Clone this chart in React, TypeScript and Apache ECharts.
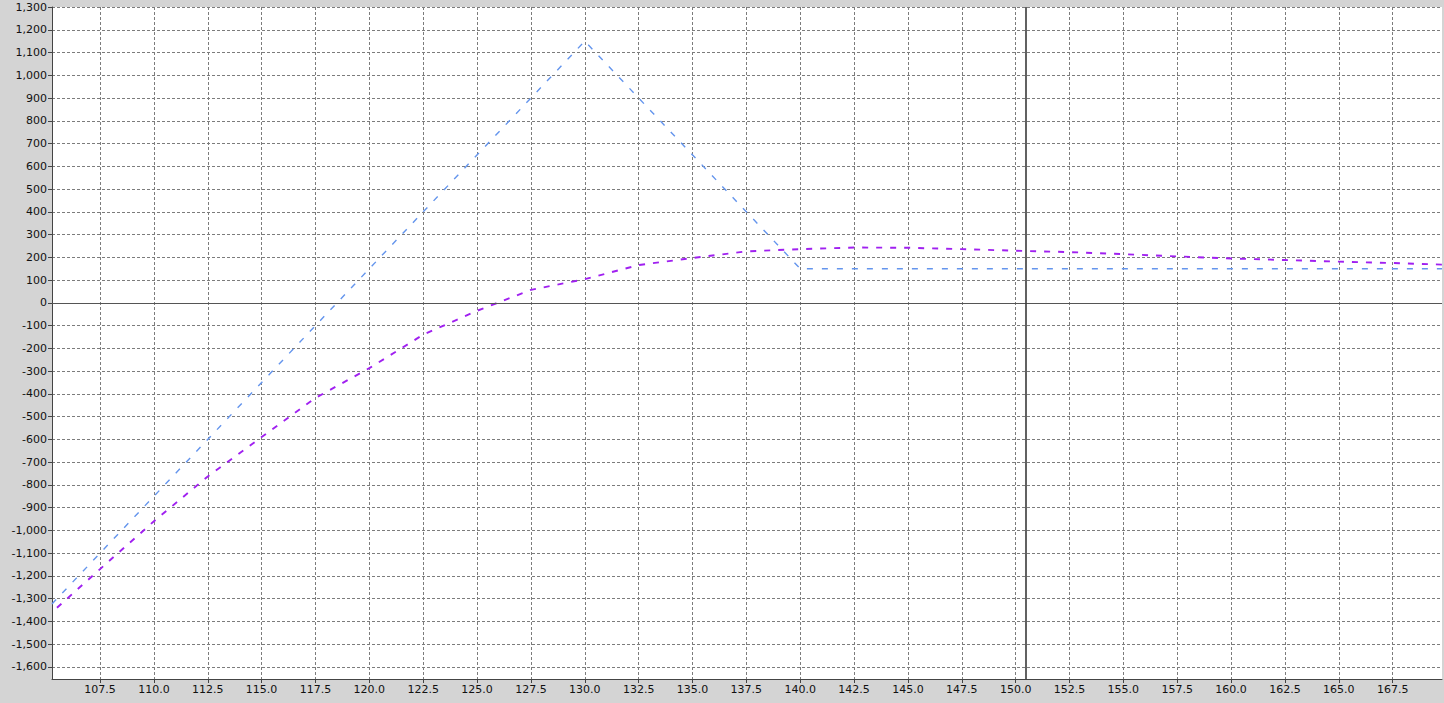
import { useEffect, useRef } from 'react'
import * as echarts from 'echarts'

// axis ranges
const X_MIN = 105.27
const X_MAX = 169.79
const Y_MIN = -1653
const Y_MAX = 1300

const xTicks = [107.5, 110, 112.5, 115, 117.5, 120, 122.5, 125, 127.5, 130, 132.5, 135, 137.5, 140, 142.5, 145, 147.5, 150, 152.5, 155, 157.5, 160, 162.5, 165, 167.5]
const yTicks = [-1600, -1500, -1400, -1300, -1200, -1100, -1000, -900, -800, -700, -600, -500, -400, -300, -200, -100, 0, 100, 200, 300, 400, 500, 600, 700, 800, 900, 1000, 1100, 1200, 1300]

// expiration payoff (blue)
const expiryX = [105.27, 130, 140, 169.79]
const expiryY = [-1323, 1150, 150, 150]

// current-date curve (purple)
const todayX = [105.5, 107.5, 110, 112.5, 115, 117.5, 120, 122.5, 125, 127.5, 130, 132.5, 135, 137.5, 140, 142.5, 145, 147.5, 150, 152.5, 155, 157.5, 160, 162.5, 165, 167.5, 169.79]
const todayY = [-1340, -1170, -960, -763, -590, -418, -287, -140, -35, 57, 104, 166, 197, 226, 236, 243, 242, 236, 229, 223, 214, 204, 195, 188, 181, 175, 168]

const cursorX = 150.45

const FONT = 'DejaVu Sans'
const GRID_LINE = { show: true, lineStyle: { color: '#7c7c7c', type: [3, 2], width: 1 } }

export default function App() {
  const ref = useRef<HTMLDivElement>(null)

  useEffect(() => {
    if (!ref.current) return
    const chart = echarts.init(ref.current, undefined, { renderer: 'svg' })
    chart.setOption({
      animation: false,
      backgroundColor: '#d4d4d4',
      grid: { left: 52, right: 2, top: 7, bottom: 24, show: true, backgroundColor: '#ffffff', borderWidth: 0 },
      xAxis: {
        type: 'value', min: X_MIN, max: X_MAX,
        axisLine: { onZero: false, lineStyle: { color: '#444', width: 1 } },
        axisTick: { show: true, length: 4, lineStyle: { color: '#444' }, customValues: xTicks },
        axisLabel: {
          customValues: xTicks, color: '#111', fontFamily: FONT, fontSize: 11, margin: 5,
          formatter: (v: number) => v.toFixed(1),
        },
        splitLine: GRID_LINE,
      },
      yAxis: {
        type: 'value', min: Y_MIN, max: Y_MAX,
        axisLine: { show: true, lineStyle: { color: '#444', width: 1 } },
        axisTick: { show: true, length: 4, lineStyle: { color: '#444' }, customValues: yTicks },
        axisLabel: {
          customValues: yTicks, color: '#111', fontFamily: FONT, fontSize: 11, margin: 5,
          formatter: (v: number) => v.toLocaleString('en-US'),
        },
        splitLine: GRID_LINE,
      },
      series: [
        {
          name: 'expiry', type: 'line', data: expiryX.map((x, i) => [x, expiryY[i]]),
          showSymbol: false, symbol: 'none', z: 3,
          lineStyle: { color: '#6495ed', width: 1.4, type: [6, 9] },
          markLine: {
            silent: true, symbol: 'none', label: { show: false },
            data: [
              { yAxis: 0, lineStyle: { color: '#555', width: 1, type: 'solid' } },
              { xAxis: cursorX, lineStyle: { color: '#3a3a3a', width: 1.6, type: 'solid' } },
            ],
          },
        },
        {
          name: 'today', type: 'line', data: todayX.map((x, i) => [x, todayY[i]]),
          showSymbol: false, symbol: 'none', z: 4,
          lineStyle: { color: '#a020f0', width: 1.9, type: [6, 8] },
        },
      ],
    })
    return () => chart.dispose()
  }, [])

  return <div ref={ref} style={{ position: 'fixed', left: 0, top: 0, width: 1444, height: 703 }} />
}
